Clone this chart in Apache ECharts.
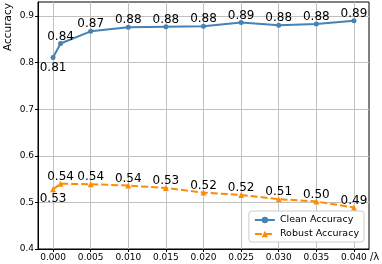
<!DOCTYPE html>
<html><head><meta charset="utf-8">
<script src="https://cdn.jsdelivr.net/npm/echarts@6/dist/echarts.min.js"></script>
<style>html,body{margin:0;padding:0;background:#fff}#c{width:382px;height:264px}</style>
</head><body><div id="c"></div>
<script>
const lambdas = [0, 0.001, 0.005, 0.010, 0.015, 0.020, 0.025, 0.030, 0.035, 0.040];
const cleanAcc = [0.811, 0.841, 0.867, 0.876, 0.877, 0.878, 0.886, 0.880, 0.883, 0.890];
const robustAcc = [0.528, 0.540, 0.539, 0.536, 0.531, 0.521, 0.516, 0.507, 0.502, 0.489];
const xTicks = [0, 0.005, 0.010, 0.015, 0.020, 0.025, 0.030, 0.035, 0.040];
const yTicks = [0.4, 0.5, 0.6, 0.7, 0.8, 0.9];
const seriesNames = ['Clean Accuracy', 'Robust Accuracy'];
const yLabel = 'Accuracy';
const xLabel = '/λ';

const FONT = 'DejaVu Sans';
function mk(vals) {
  return vals.map((v, i) => ({
    value: [lambdas[i], v],
    label: { offset: i === 0 ? [0, 10] : [0, -7] }
  }));
}
const chart = echarts.init(document.getElementById('c'));
chart.setOption({
  animation: false,
  textStyle: { fontFamily: FONT },
  grid: { left: 38, right: 13, top: 2, bottom: 15, show: true, borderColor: '#000', borderWidth: 1, backgroundColor: 'transparent' },
  xAxis: {
    type: 'value', min: -0.002, max: 0.042,
    axisLine: { show: true, onZero: false, lineStyle: { color: '#000' } },
    axisTick: { show: true, length: 3, customValues: xTicks, lineStyle: { color: '#000' } },
    axisLabel: { customValues: xTicks, formatter: v => v.toFixed(3), fontSize: 9, color: '#000', margin: 4, fontFamily: FONT },
    splitLine: { show: true, lineStyle: { color: '#c0c0c0', width: 1 } }
  },
  yAxis: {
    type: 'value', min: 0.4, max: 0.93,
    axisLine: { show: true, onZero: false, lineStyle: { color: '#000' } },
    axisTick: { show: true, length: 3, customValues: yTicks, lineStyle: { color: '#000' } },
    axisLabel: { customValues: yTicks, formatter: v => v.toFixed(1), fontSize: 9, color: '#000', margin: 4, fontFamily: FONT },
    splitLine: { show: true, lineStyle: { color: '#c0c0c0', width: 1 } }
  },
  legend: {
    right: 18, bottom: 22, orient: 'vertical',
    backgroundColor: '#fff', borderColor: '#cccccc', borderWidth: 1, borderRadius: 3,
    padding: [4, 5, 3, 5], itemGap: 4, itemWidth: 20, itemHeight: 8,
    textStyle: { fontSize: 9.5, color: '#000', fontFamily: FONT },
    data: seriesNames
  },
  series: [
    {
      name: seriesNames[0], type: 'line', data: mk(cleanAcc),
      symbol: 'circle', symbolSize: 5,
      lineStyle: { color: '#4682b4', width: 2 }, itemStyle: { color: '#4682b4' },
      label: { show: true, position: 'inside', formatter: p => p.value[1].toFixed(2), fontSize: 12, color: '#000', fontFamily: FONT }
    },
    {
      name: seriesNames[1], type: 'line', data: mk(robustAcc),
      symbol: 'triangle', symbolSize: 6,
      lineStyle: { color: '#ff8c00', width: 2, type: [7, 3] }, itemStyle: { color: '#ff8c00' },
      label: { show: true, position: 'inside', formatter: p => p.value[1].toFixed(2), fontSize: 12, color: '#000', fontFamily: FONT }
    }
  ],
  graphic: [
    { type: 'text', x: 8, y: 27, rotation: Math.PI / 2, style: { text: yLabel, font: '10.5px "DejaVu Sans"', fill: '#000', textAlign: 'center', textVerticalAlign: 'middle' } },
    { type: 'text', x: 370, y: 257, style: { text: xLabel, font: '10px "DejaVu Sans"', fill: '#000', textAlign: 'left', textVerticalAlign: 'middle' } }
  ]
});
</script></body></html>
